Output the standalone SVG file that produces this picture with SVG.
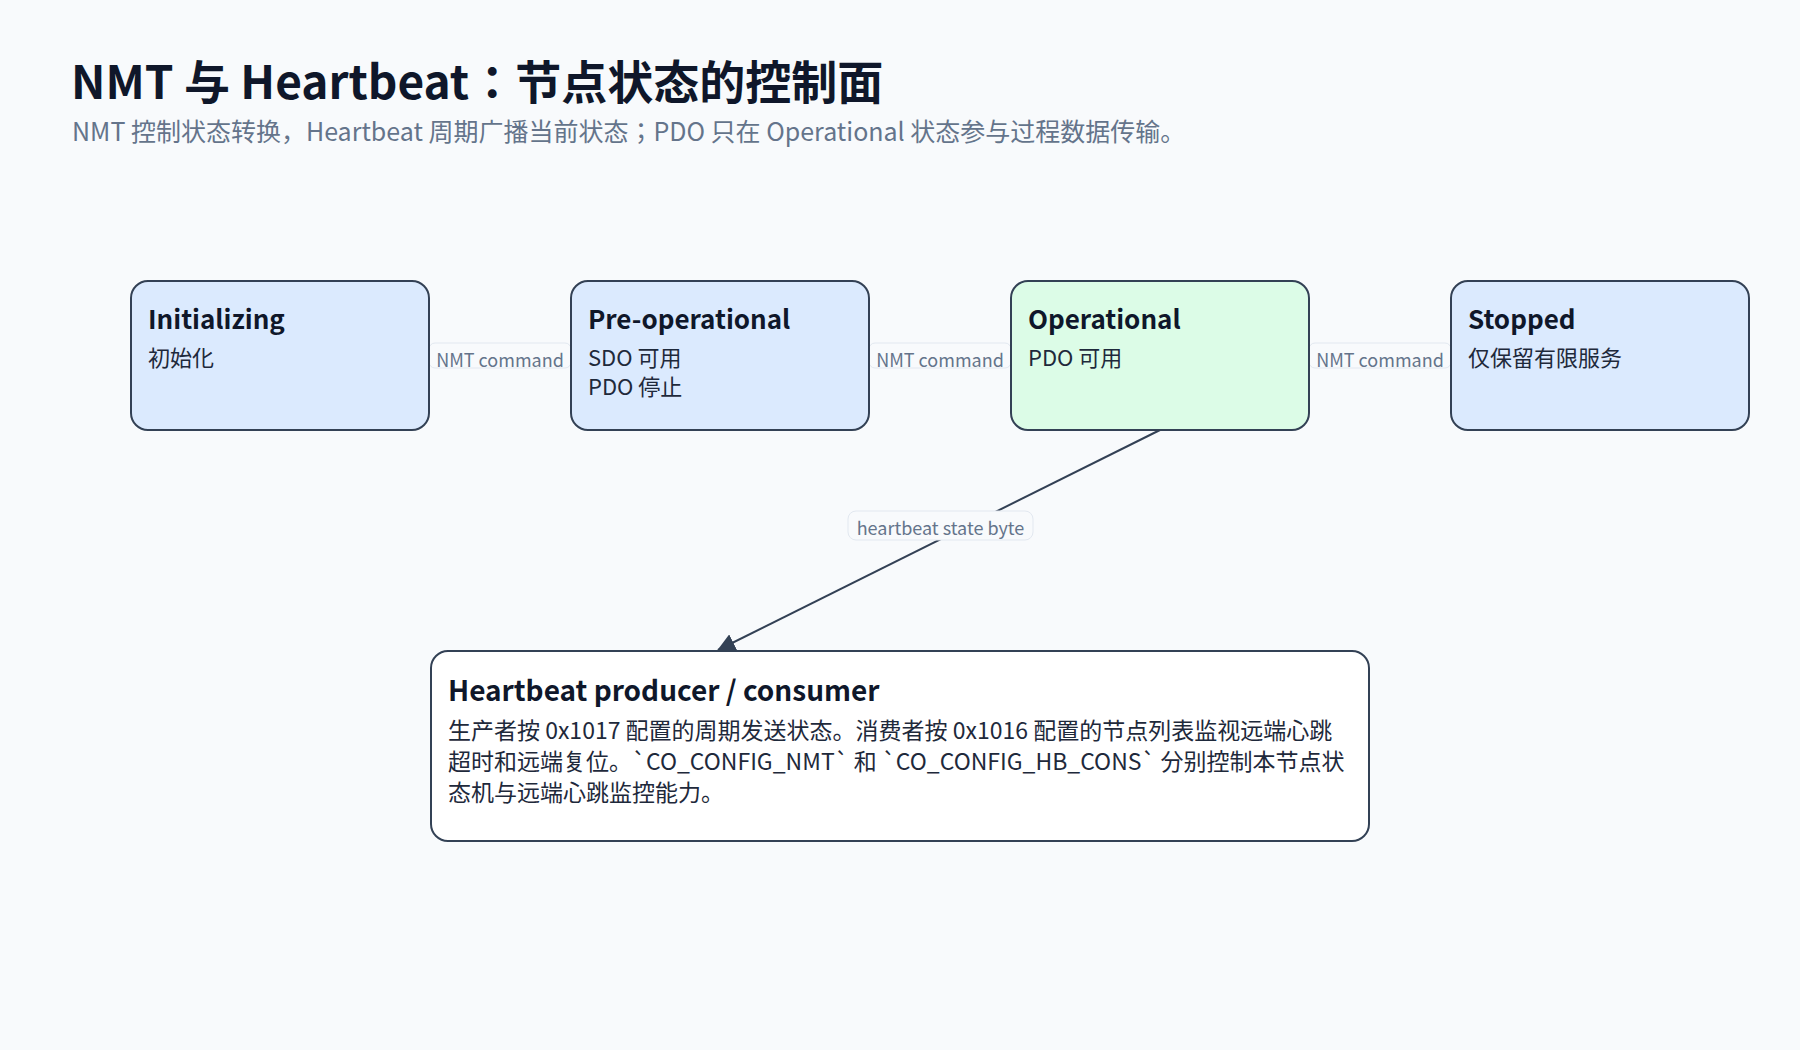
<svg xmlns="http://www.w3.org/2000/svg" width="1800" height="1050" viewBox="0 0 1800 1050">
<defs>
<style>
text{font-family:"Noto Sans CJK JP","Noto Sans CJK SC","Noto Sans",sans-serif;}
.title{font-size:46px;font-weight:700;fill:#0f172a;}
.sub{font-size:25px;fill:#64748b;}
.node{stroke:#334155;stroke-width:2;}
.blue{fill:#dbeafe;}
.green{fill:#dcfce7;}
.white{fill:#ffffff;}
.nt{font-size:26px;font-weight:700;fill:#0f172a;}
.ht{font-size:28px;font-weight:700;fill:#0f172a;}
.nb{font-size:22px;fill:#1e293b;}
.hb{font-size:23px;fill:#1e293b;}
.edge{stroke:#334155;stroke-width:2;fill:none;}
.lbox{fill:#f8fafc;stroke:#e2e8f0;stroke-width:1;}
.lt{font-size:18px;fill:#64748b;text-anchor:middle;}
</style>
<marker id="arr" viewBox="0 0 18 18" markerWidth="18" markerHeight="18" refX="17" refY="9" orient="auto" markerUnits="userSpaceOnUse">
<path d="M0,0 L18,9 L0,18 z" fill="#334155"/>
</marker>
</defs>
<rect width="1800" height="1050" fill="#f8fafc"/>
<text class="title" x="71" y="99">NMT 与 Heartbeat：节点状态的控制面</text>
<text class="sub" x="72" y="141">NMT 控制状态转换，Heartbeat 周期广播当前状态；PDO 只在 Operational 状态参与过程数据传输。</text>

<g id="connectors">
<line class="edge" x1="430" y1="355" x2="570" y2="355" marker-end="url(#arr)"/>
<line class="edge" x1="870" y1="355" x2="1010" y2="355" marker-end="url(#arr)"/>
<line class="edge" x1="1310" y1="355" x2="1450" y2="355" marker-end="url(#arr)"/>
<line class="edge" x1="1160" y1="430" x2="718" y2="650" marker-end="url(#arr)"/>
<rect class="lbox" x="429" y="343" width="142" height="25" rx="6"/>
<text class="lt" x="500" y="367">NMT command</text>
<rect class="lbox" x="869" y="343" width="142" height="25" rx="6"/>
<text class="lt" x="940" y="367">NMT command</text>
<rect class="lbox" x="1309" y="343" width="142" height="25" rx="6"/>
<text class="lt" x="1380" y="367">NMT command</text>
<rect class="lbox" x="848" y="511" width="185" height="29" rx="8"/>
<text class="lt" x="940.5" y="535">heartbeat state byte</text>
</g>

<g id="initializing">
<rect class="node blue" x="131" y="281" width="298" height="149" rx="17"/>
<text class="nt" x="148" y="329">Initializing</text>
<text class="nb" x="148" y="366">初始化</text>
</g>
<g id="preoperational">
<rect class="node blue" x="571" y="281" width="298" height="149" rx="17"/>
<text class="nt" x="588" y="329">Pre-operational</text>
<text class="nb" x="588" y="366">SDO 可用</text>
<text class="nb" x="588" y="395">PDO 停止</text>
</g>
<g id="operational">
<rect class="node green" x="1011" y="281" width="298" height="149" rx="17"/>
<text class="nt" x="1028" y="329">Operational</text>
<text class="nb" x="1028" y="366">PDO 可用</text>
</g>
<g id="stopped">
<rect class="node blue" x="1451" y="281" width="298" height="149" rx="17"/>
<text class="nt" x="1468" y="329">Stopped</text>
<text class="nb" x="1468" y="366">仅保留有限服务</text>
</g>
<g id="heartbeat">
<rect class="node white" x="431" y="651" width="938" height="190" rx="17"/>
<text class="ht" x="448" y="701">Heartbeat producer / consumer</text>
<text class="hb" x="448" y="739">生产者按 0x1017 配置的周期发送状态。消费者按 0x1016 配置的节点列表监视远端心跳</text>
<text class="hb" x="448" y="770">超时和远端复位。`CO_CONFIG_NMT` 和 `CO_CONFIG_HB_CONS` 分别控制本节点状</text>
<text class="hb" x="448" y="801">态机与远端心跳监控能力。</text>
</g>
</svg>
